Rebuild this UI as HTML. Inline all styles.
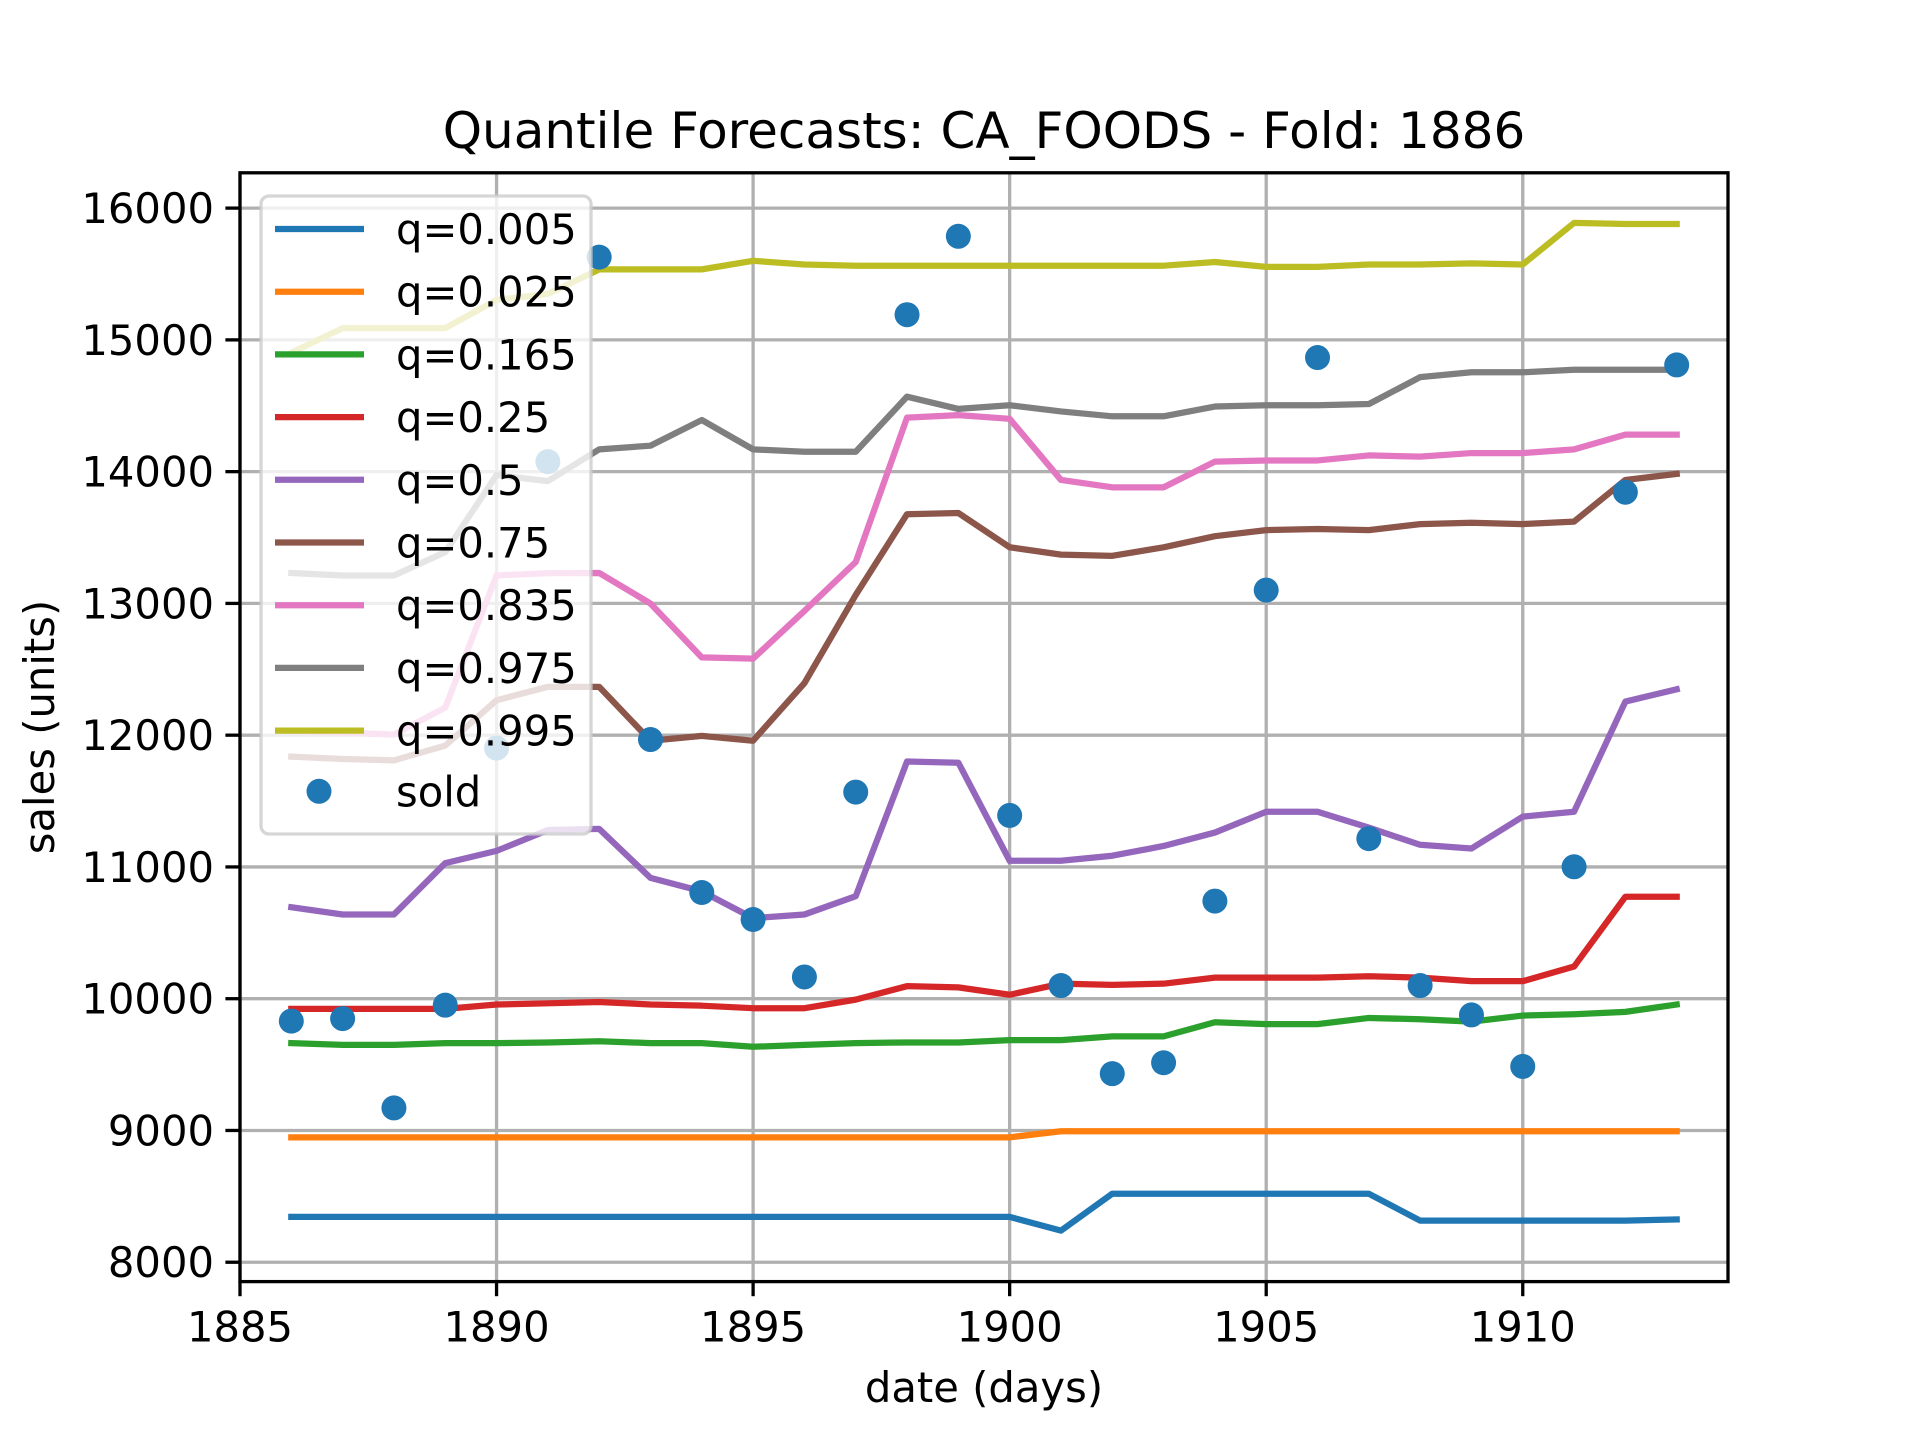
<!DOCTYPE html>
<html><head><meta charset="utf-8"><style>
html,body{margin:0;padding:0;background:#fff;}
svg{display:block;font-family:"DejaVu Sans","Liberation Sans",sans-serif;}
</style></head><body>
<svg id="chart" width="1920" height="1440" viewBox="0 0 1920 1440" xmlns="http://www.w3.org/2000/svg">
<rect width="1920" height="1440" fill="#fff"/>
<g id="grid"></g>
<g id="series"></g>
<g id="dots"></g>
<rect x="240" y="172.8" width="1488" height="1108.8" fill="none" stroke="#000" stroke-width="3.3"/>
<g id="ticks"></g>
<text x="984" y="148" font-size="50" text-anchor="middle">Quantile Forecasts: CA_FOODS - Fold: 1886</text>
<text x="984" y="1402" font-size="41.7" text-anchor="middle">date (days)</text>
<text transform="translate(54,727) rotate(-90)" font-size="41.7" text-anchor="middle">sales (units)</text>
<g id="legend"></g>
</svg>
<script>
const days = [1886,1887,1888,1889,1890,1891,1892,1893,1894,1895,1896,1897,1898,1899,1900,1901,1902,1903,1904,1905,1906,1907,1908,1909,1910,1911,1912,1913];
const q005 = [8344,8344,8344,8344,8344,8344,8344,8344,8344,8344,8344,8344,8344,8344,8344,8240,8520,8520,8520,8520,8520,8520,8316,8316,8316,8316,8316,8325];
const q025 = [8948,8948,8948,8948,8948,8948,8948,8948,8948,8948,8948,8948,8948,8948,8948,8994,8994,8994,8994,8994,8994,8994,8994,8994,8994,8994,8994,8994];
const q165 = [9663,9650,9650,9663,9663,9668,9677,9663,9663,9635,9650,9663,9668,9668,9686,9686,9714,9714,9821,9807,9807,9854,9844,9826,9872,9882,9900,9956];
const q25 = [9923,9923,9923,9923,9956,9965,9975,9956,9947,9928,9928,9993,10095,10086,10030,10114,10105,10114,10160,10160,10160,10170,10160,10133,10133,10244,10774,10774];
const q5 = [10694,10639,10639,11029,11122,11280,11289,10917,10815,10611,10639,10778,11800,11791,11047,11047,11085,11159,11261,11419,11419,11298,11168,11140,11382,11419,12255,12348];
const q75 = [11837,11819,11809,11921,12265,12367,12367,11958,11995,11958,12395,13064,13677,13686,13426,13370,13361,13426,13510,13556,13565,13556,13602,13612,13602,13621,13937,13983];
const q835 = [12033,12020,12004,12209,13212,13230,13231,12999,12590,12581,12943,13314,14410,14429,14401,13937,13881,13881,14076,14085,14085,14123,14114,14141,14141,14169,14281,14281];
const q975 = [13231,13212,13212,13389,13974,13928,14169,14197,14392,14169,14151,14151,14569,14476,14504,14457,14420,14420,14494,14504,14504,14513,14717,14754,14754,14773,14773,14773];
const q995 = [14903,15089,15089,15089,15303,15349,15535,15535,15535,15600,15572,15563,15563,15563,15563,15563,15563,15563,15591,15554,15554,15572,15572,15581,15572,15888,15879,15879];
const sold = [9830,9849,9171,9951,11902,14076,15628,11967,10806,10601,10165,11568,15191,15786,11391,10100,9431,9514,10741,13101,14866,11215,10100,9877,9486,11001,13844,14810];
const seriesLabels = ["q=0.005","q=0.025","q=0.165","q=0.25","q=0.5","q=0.75","q=0.835","q=0.975","q=0.995"];
const xTicks = [1885,1890,1895,1900,1905,1910];
const yTicks = [8000,9000,10000,11000,12000,13000,14000,15000,16000];

const colors = ["#1f77b4","#ff7f0e","#2ca02c","#d62728","#9467bd","#8c564b","#e377c2","#7f7f7f","#bcbd22"];
const allSeries = [q005,q025,q165,q25,q5,q75,q835,q975,q995];
const X0=240,X1=1728,Y0=1281.6,Y1=172.8;
const xmin=1885,xmax=1914,ymin=7853,ymax=16268;
const xs = d => X0+(d-xmin)/(xmax-xmin)*(X1-X0);
const ys = v => Y0-(v-ymin)/(ymax-ymin)*(Y0-Y1);
const NS="http://www.w3.org/2000/svg";
function mk(tag, attrs, parent){const e=document.createElementNS(NS,tag);for(const k in attrs)e.setAttribute(k,attrs[k]);parent.appendChild(e);return e;}
const grid=document.getElementById('grid'), ticks=document.getElementById('ticks');
xTicks.forEach(t=>{
  const g=mk('line',{x1:xs(t),x2:xs(t),y1:Y1,y2:Y0,stroke:'#b0b0b0','stroke-width':3.3},grid);
  
  
  const tk=mk('line',{x1:xs(t),x2:xs(t),y1:Y0,y2:Y0+14.6,stroke:'#000','stroke-width':3.3},ticks);
  
  
  const tx=mk('text',{x:xs(t),y:Y0+60,'font-size':41.7,'text-anchor':'middle'},ticks);
  tx.textContent=t;
  
  
});
yTicks.forEach(t=>{
  const g=mk('line',{x1:X0,x2:X1,y1:ys(t),y2:ys(t),stroke:'#b0b0b0','stroke-width':3.3},grid);
  
  
  const tk=mk('line',{x1:X0-14.6,x2:X0,y1:ys(t),y2:ys(t),stroke:'#000','stroke-width':3.3},ticks);
  
  
  const tx=mk('text',{x:X0-26,y:ys(t)+15,'font-size':41.7,'text-anchor':'end'},ticks);
  tx.textContent=t;
  
  
});
const sg=document.getElementById('series');
allSeries.forEach((s,i)=>{
  const p=mk('polyline',{points:s.map((v,j)=>xs(days[j])+','+ys(v)).join(' '),fill:'none',stroke:colors[i],'stroke-width':6.25,'stroke-linejoin':'round','stroke-linecap':'square'},sg);
  
  
});
const dg=document.getElementById('dots');
sold.forEach((v,j)=>{
  const c=mk('circle',{cx:xs(days[j]),cy:ys(v),r:12.5,fill:'#1f77b4'},dg);
  
  
});
const lg=document.getElementById('legend');
const box=mk('rect',{x:261,y:196,width:330,height:638,rx:8,fill:'#fff','fill-opacity':0.8,stroke:'#cccccc','stroke-opacity':0.8,'stroke-width':3.3},lg);


seriesLabels.forEach((l,i)=>{
  const y=229+i*62.7;
  const ln=mk('line',{x1:275,x2:364,y1:y,y2:y,stroke:colors[i],'stroke-width':6.25},lg);
  
  
  const t=mk('text',{x:396,y:y+15,'font-size':41.7},lg);
  t.textContent=l;
  
  
});
const sy=229+9*62.7;
const sc=mk('circle',{cx:319,cy:sy-2,r:12.5,fill:'#1f77b4'},lg);


const st=mk('text',{x:396,y:sy+13,'font-size':41.7},lg);
st.textContent='sold';


</script>
</body></html>
